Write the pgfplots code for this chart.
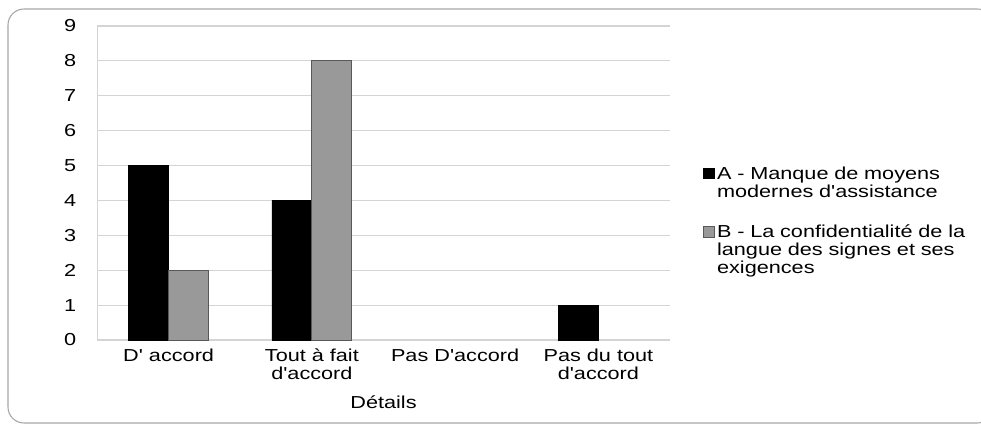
\documentclass[border=0pt]{standalone}
\usepackage{fontspec}
\setmainfont{Liberation Sans}[FakeStretch=1.25,Ligatures=TeXOff]
\usepackage{pgfplots}
\pgfplotsset{compat=1.18}
\definecolor{barB}{HTML}{999999}
\definecolor{gridc}{HTML}{D4D4D4}
\definecolor{framec}{HTML}{A6A6A6}

\begin{document}
\begin{tikzpicture}
\useasboundingbox (0,0) rectangle (735.75pt,318.75pt);
\draw[framec, line width=0.8pt, rounded corners=12pt] (6pt,1.5pt) rectangle (745pt,312pt);

\begin{axis}[
    at={(72.75pt,63.75pt)}, anchor=south west,
    scale only axis,
    width=429.75pt, height=235.5pt,
    ybar=0pt, bar width=30pt,
    xmin=-0.5, xmax=3.5,
    ymin=0, ymax=9,
    xtick={0,1,2,3},
    xticklabels={D' accord, Tout à fait\\d'accord, Pas D'accord, Pas du tout\\d'accord},
    ytick={0,1,...,9},
    major tick length=0pt,
    axis x line*=bottom, axis y line*=left,
    axis line style={gridc, -},
    ymajorgrids, major grid style={gridc, line width=0.8pt},
    /pgf/number format/assume math mode=true,
    font=\fontsize{13}{13.5}\selectfont,
    x tick label style={align=center, yshift=-3pt},
    y tick label style={xshift=-12pt},
    xlabel={Détails},
    xlabel style={yshift=-5pt},
    legend style={at={(1.05,0.57)}, anchor=north west, draw=none,
        font=\fontsize{13}{13.4}\selectfont,
        row sep=29pt,
        cells={anchor=west, align=left, text width=200pt}},
    legend image code/.code={\draw[#1] (0pt,-3.5pt) rectangle (8pt,4.5pt);},
    legend cell align=left,
]
\addplot[fill=black, draw=black] coordinates {(0,5) (1,4) (3,1)};
\addplot[fill=barB, draw=black!65, line width=0.6pt] coordinates {(0,2) (1,8)};
\legend{A - Manque de moyens\\modernes d'assistance, B - La confidentialité de la\\langue des signes et ses\\exigences}
\end{axis}
\end{tikzpicture}
\end{document}
